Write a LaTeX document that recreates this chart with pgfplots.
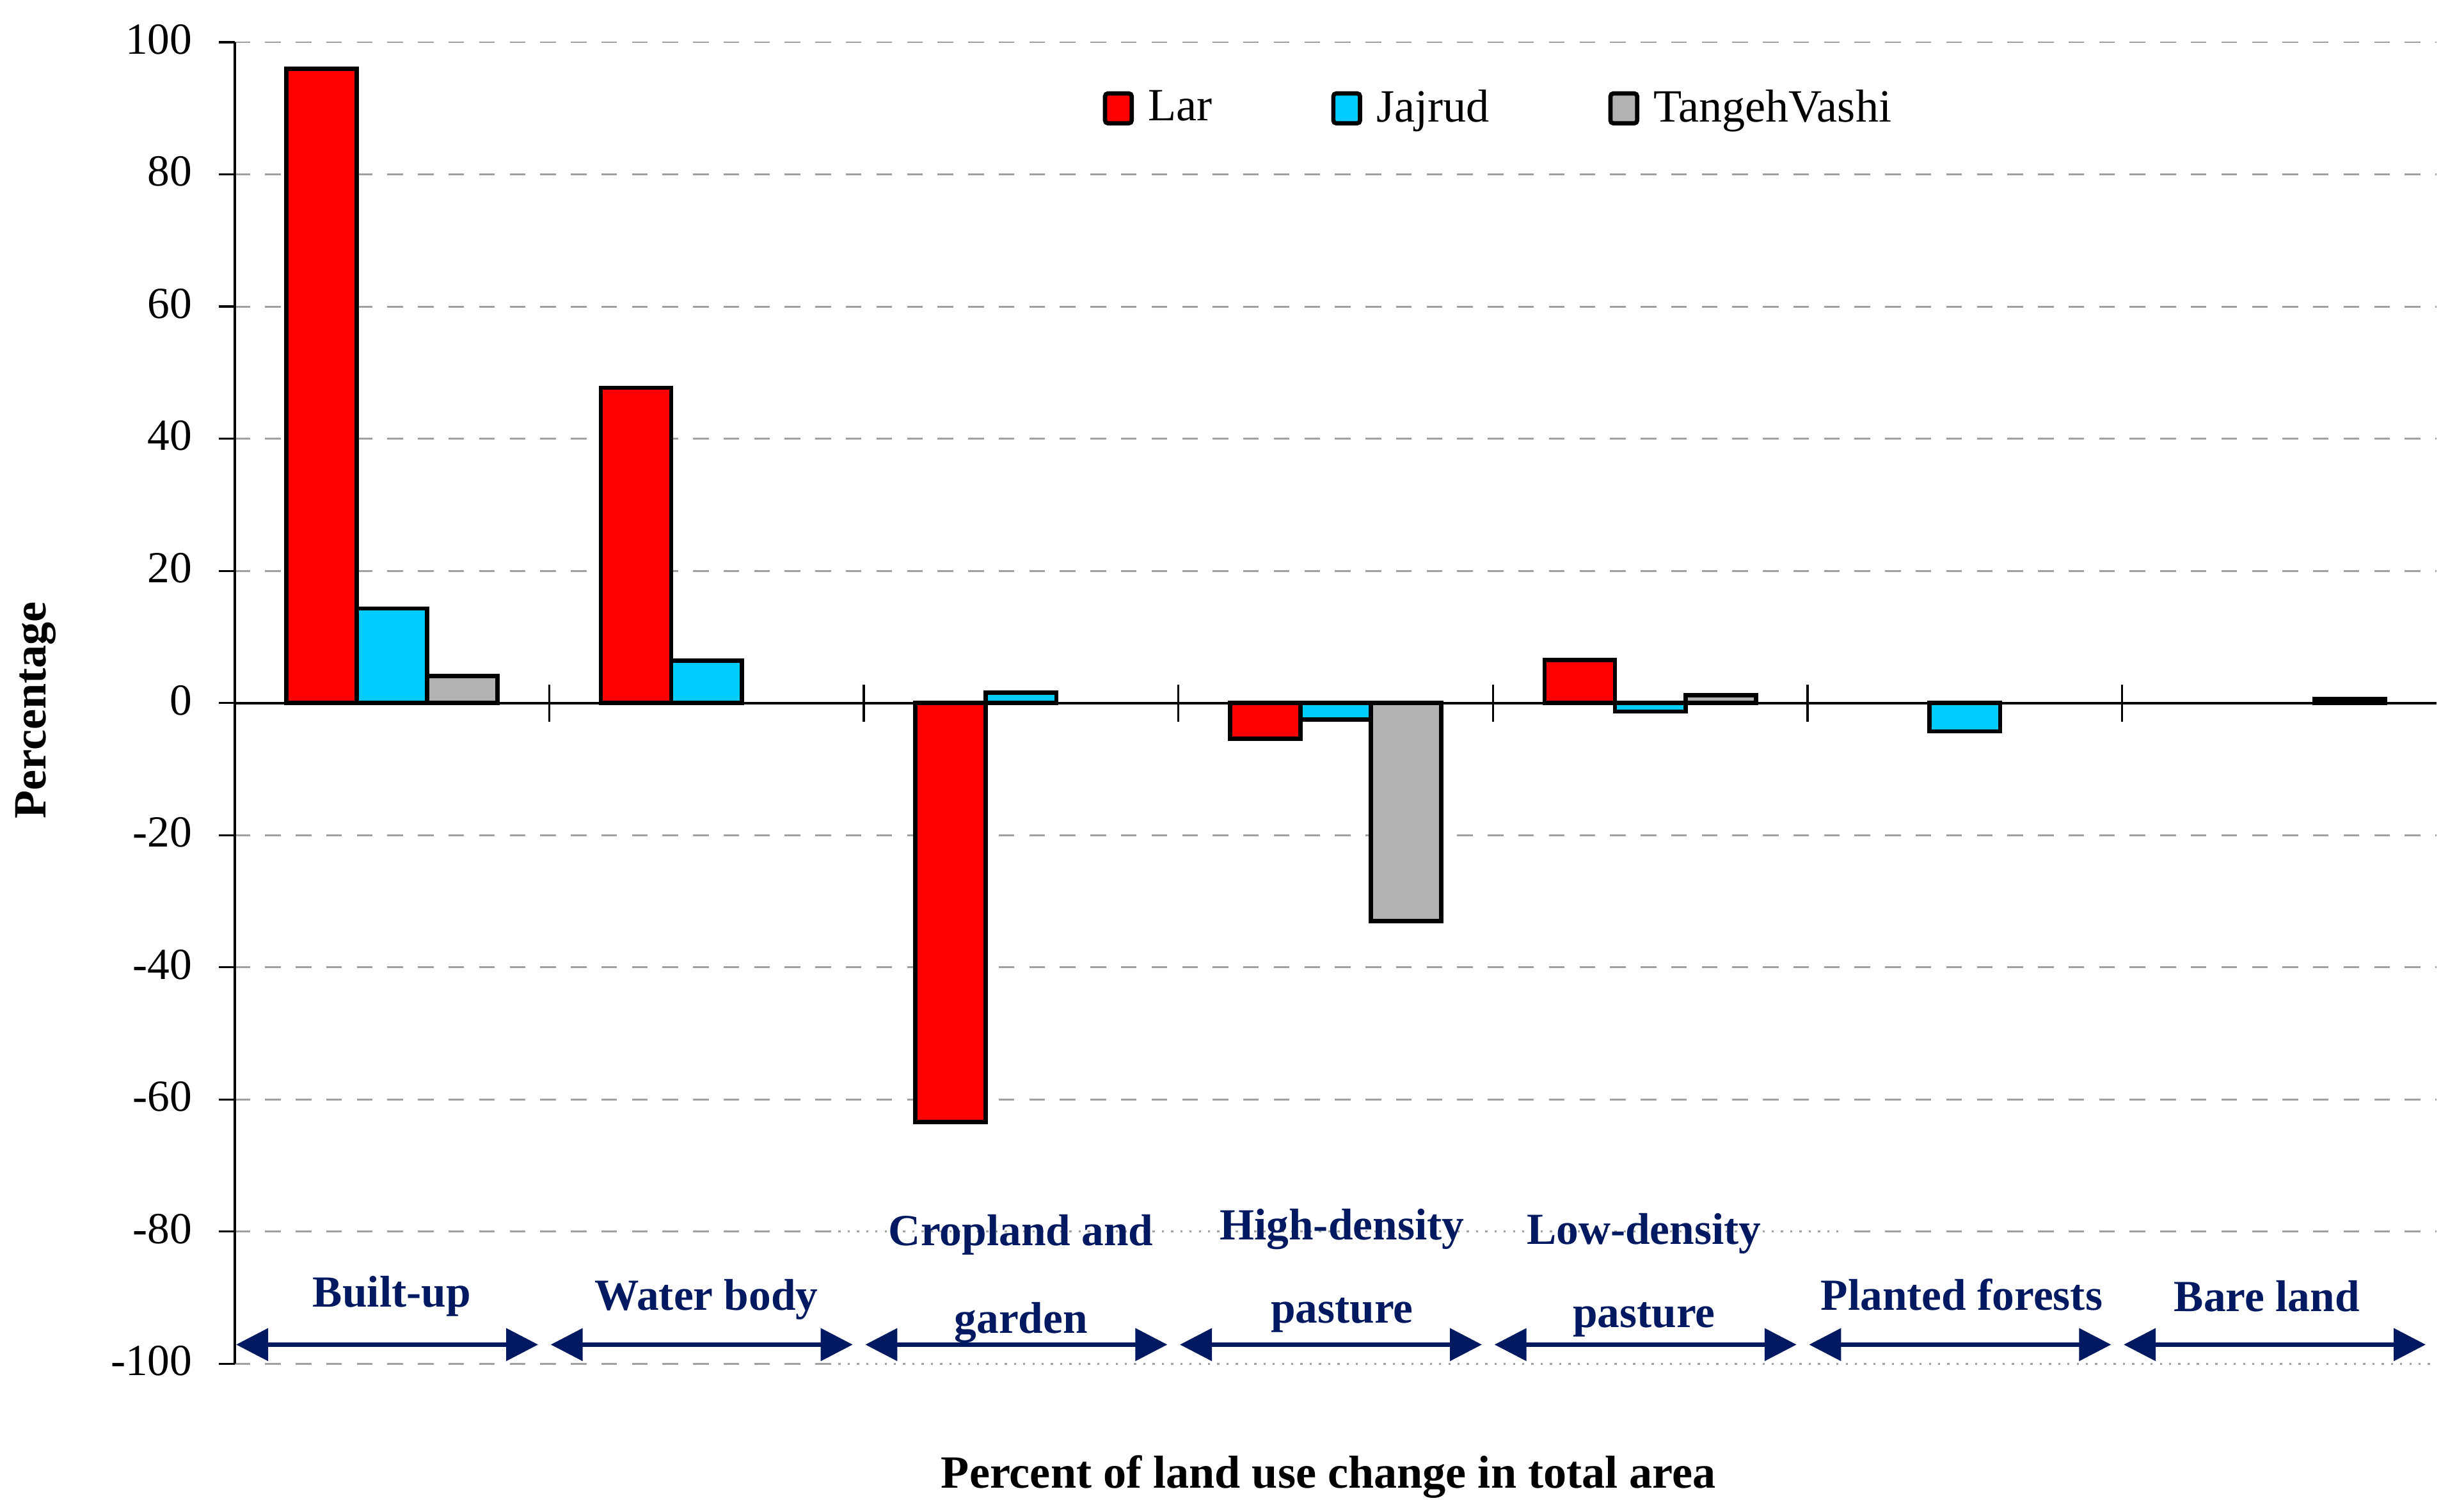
\documentclass[border=0pt]{standalone}
\usepackage{fontspec}
\setmainfont{Liberation Serif}
\usepackage{pgfplots}
\pgfplotsset{compat=1.18}
\usetikzlibrary{arrows.meta}

\definecolor{larred}{RGB}{255,0,0}
\definecolor{jajcyan}{RGB}{0,204,255}
\definecolor{tvgray}{RGB}{178,178,178}
\definecolor{navy}{RGB}{0,25,96}
\definecolor{gridgray}{RGB}{160,160,160}

\pgfplotsset{
  barleg/.style={legend image code/.code={\draw[##1, line width=1.2pt, rounded corners=0.8pt] (0pt,-4.2pt) rectangle (7.5pt,4.2pt);}},
}
\tikzset{
  catlab/.style={font=\fontsize{12.5}{14}\selectfont\bfseries, text=navy, anchor=center},
  catarrow/.style={navy, line width=1.2pt, {Triangle[length=9pt,width=9pt]}-{Triangle[length=9pt,width=9pt]}},
}

\begin{document}
\begin{tikzpicture}
\useasboundingbox (-66pt,-41.7pt) rectangle (625.3pt,383.7pt);
\begin{axis}[
  at={(0,0)}, anchor=south west,
  scale only axis, width=619.6pt, height=371.8pt,
  xmin=-0.5, xmax=6.5, ymin=-100, ymax=100,
  clip=false,
  axis x line*=middle, axis y line*=left,
  axis line style={black, line width=0.7pt},
  xtick=\empty,
  ytick={-100,-80,-60,-40,-20,0,20,40,60,80,100},
  yticklabels={-100,-80,-60,-40,-20,0,20,40,60,80,100},
  yticklabel style={font=\fontsize{12.5}{14}\selectfont, xshift=-4pt, yshift=0.8pt},
  ytick align=outside, major tick length=4.4pt,
  tick style={black, line width=0.6pt},
  ymajorgrids,
  major grid style={gridgray, line width=0.5pt, dash pattern=on 4.4pt off 4.2pt},
  ylabel={Percentage},
  ylabel style={font=\fontsize{13}{15}\selectfont\bfseries, at={(axis description cs:0,0.5)}, anchor=center, yshift=56pt, xshift=-2pt},
  xlabel={Percent of land use change in total area},
  xlabel style={font=\fontsize{13}{15}\selectfont\bfseries, at={(axis description cs:0.5,0)}, anchor=center, yshift=-31.8pt, xshift=-2pt},
  legend style={at={(axis description cs:0.394,0.95)}, anchor=west, draw=none, fill=none,
    font=\fontsize{13}{15}\selectfont, inner sep=0pt},
  legend columns=3,
  legend style={/tikz/every odd column/.append style={column sep=2pt},
                /tikz/every even column/.append style={column sep=31.5pt}},
]

% Lar
\addplot[ybar, bar width=0.224, bar shift=-0.224, fill=larred, draw=black, line width=1.2pt, barleg]
  coordinates {(0,96.0) (1,47.7) (2,-63.4) (3,-5.4) (4,6.5)};
% Jajrud
\addplot[ybar, bar width=0.224, bar shift=0, fill=jajcyan, draw=black, line width=1.2pt, barleg]
  coordinates {(0,14.3) (1,6.4) (2,1.6) (3,-2.5) (4,-1.3) (5,-4.3)};
% TangehVashi
\addplot[ybar, bar width=0.224, bar shift=0.224, fill=tvgray, draw=black, line width=1.2pt, barleg]
  coordinates {(0,4.1) (3,-33.0) (4,1.2) (6,0.6)};
\legend{Lar, Jajrud, TangehVashi}

% group separators on the zero line
\pgfplotsinvokeforeach{0.5,1.5,2.5,3.5,4.5,5.5}{
  \draw[black, line width=0.6pt] (axis cs:#1,-2.8) -- (axis cs:#1,2.8);
}

% dotted stretches of the lower gridlines
\draw[white, line width=1.2pt] (axis cs:1.39,-80) -- (axis cs:4.61,-80);
\draw[gridgray, line width=0.6pt, dotted] (axis cs:1.39,-80) -- (axis cs:4.61,-80);
\draw[white, line width=1.2pt] (axis cs:1.39,-100) -- (axis cs:6.5,-100);
\draw[gridgray, line width=0.6pt, dotted] (axis cs:1.39,-100) -- (axis cs:6.5,-100);

% category labels with arrows
\pgfplotsinvokeforeach{0,1,2,3,4,5,6}{
  \draw[catarrow] (axis cs:#1-0.495,-97.1) -- (axis cs:#1+0.465,-97.1);
}
\node[catlab] at (axis cs:0,-89.8) {Built-up};
\node[catlab] at (axis cs:1,-90.3) {Water body};
\node[catlab] at (axis cs:2,-80.5) {Cropland and};
\node[catlab] at (axis cs:2,-93.8) {garden};
\node[catlab] at (axis cs:3.02,-79.6) {High-density};
\node[catlab] at (axis cs:3.02,-92.6) {pasture};
\node[catlab] at (axis cs:3.98,-80.3) {Low-density};
\node[catlab] at (axis cs:3.98,-93.3) {pasture};
\node[catlab] at (axis cs:4.99,-89.5) {Planted forests};
\node[catlab] at (axis cs:5.96,-89.8) {Bare land};
\end{axis}
\end{tikzpicture}
\end{document}
